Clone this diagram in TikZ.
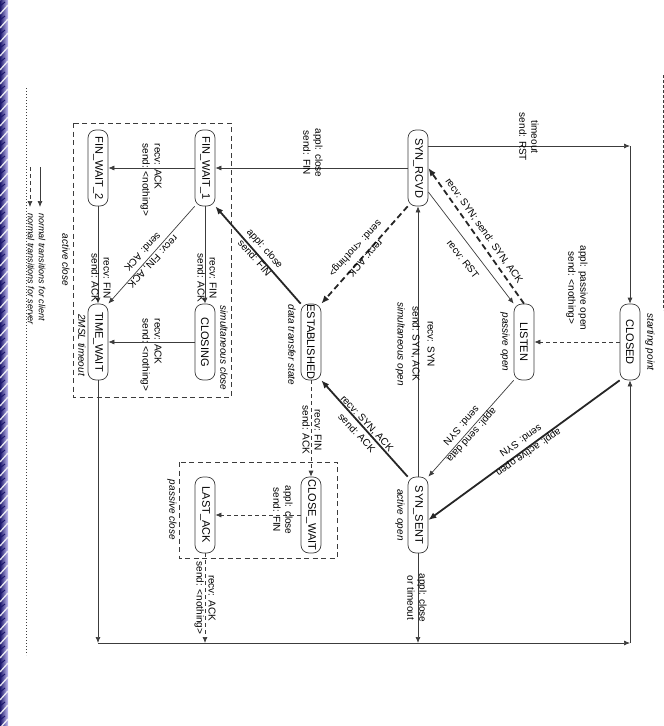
\documentclass[tikz,border=0pt]{standalone}
\usepackage{fontspec}
\setmainfont{Liberation Sans}
\usetikzlibrary{arrows.meta}
\definecolor{stripdark}{RGB}{30,25,110}
\definecolor{stripmid}{RGB}{110,100,210}
\definecolor{striplight}{RGB}{200,195,245}
\definecolor{ln}{RGB}{60,60,60}
\tikzset{
  x=1pt, y=-1pt,
  st/.style={draw=ln, line width=0.7pt, rounded corners=8pt, rotate=-90,
    minimum width=76pt, minimum height=20pt, inner sep=0pt,
    font=\fontsize{11}{12}\selectfont, fill=white},
  lblr/.style={align=center, font=\fontsize{10}{12}\selectfont, inner sep=0pt},
  lbld/.style={align=center, font=\fontsize{10}{14}\selectfont, inner sep=0pt},
  lbl/.style={lblr, rotate=-90},
  ann/.style={rotate=-90, font=\itshape\fontsize{10}{12}\selectfont, inner sep=0pt},
  tr/.style={draw=ln, line width=0.7pt, -{Latex[length=6pt,width=5pt]}},
  trthick/.style={draw=black!85, line width=1.8pt, -{Latex[length=8pt,width=6.5pt]}},
  dsh/.style={dash pattern=on 4pt off 3pt},
  dshthick/.style={dash pattern=on 6pt off 3.5pt},
  region/.style={draw=ln, line width=0.8pt, dash pattern=on 5pt off 3.5pt},
}
\begin{document}
\begin{tikzpicture}
\useasboundingbox (0,0) rectangle (664,726);
% left decorative strip
\shade[left color=stripdark, right color=striplight] (0,0) rectangle (8,726);
\foreach \k in {0,...,52} {
  \draw[white, line width=1.3pt, opacity=0.85] (0,\k*14) -- (8,\k*14-9);
  \draw[stripdark, line width=1pt] (0,\k*14+6) -- (5,\k*14+2);
}
% right dashed border fragment and legend dotted line
\draw[ln, line width=0.5pt, dash pattern=on 3pt off 2pt] (663,75) -- (663,310);
\draw[ln, line width=0.8pt, dash pattern=on 1pt off 2pt] (26,88) -- (26,655);

% dashed regions
\draw[region] (73,123) rectangle (231,397);
\draw[region] (179,462) rectangle (337,558);

% states
\node[st] (closed) at (630,342) {CLOSED};
\node[st] (listen) at (524,342) {LISTEN};
\node[st] (synrcvd) at (418,168) {SYN\_RCVD};
\node[st] (synsent) at (418,515) {SYN\_SENT};
\node[st] (estab) at (311,342) {ESTABLISHED};
\node[st] (finwait1) at (205,168) {FIN\_WAIT\_1};
\node[st] (finwait2) at (98,168) {FIN\_WAIT\_2};
\node[st] (closing) at (205,342) {CLOSING};
\node[st] (timewait) at (98,342) {TIME\_WAIT};
\node[st] (closewait) at (311,515) {CLOSE\_WAIT};
\node[st] (lastack) at (205,515) {LAST\_ACK};

% helper coordinates
\coordinate (c1) at (630,146);
\coordinate (c2) at (630,643);
\coordinate (b0) at (98,643);
\coordinate (b1) at (205,643);
\coordinate (b2) at (418,643);

% transitions
\draw[tr] ([yshift=22pt]synrcvd.north) -- (c1);
\draw[tr] (c1) -- (closed.west);
\draw[tr, dsh] (closed.south) -- (listen.north);
\draw[trthick, dshthick] (listen.west) -- (synrcvd.north);
\draw[tr] ([yshift=-24pt]synrcvd.north) -- (listen.south west);
\draw[tr] (listen.south east) -- (synsent.north west);
\draw[trthick] (closed.south east) -- ([yshift=-5pt]synsent.north);
\draw[tr] (synsent.west) -- (synrcvd.east);
\draw[trthick, dshthick] (synrcvd.south east) -- (estab.north west);
\draw[trthick] (synsent.south west) -- (estab.north east);
\draw[tr] (synrcvd.south) -- (finwait1.north);
\draw[trthick] (estab.south west) -- (finwait1.north east);
\draw[tr, dsh] (estab.east) -- (closewait.west);
\draw[tr, dsh] (closewait.south) -- (lastack.north);
\draw[tr] (finwait1.south) -- (finwait2.north);
\draw[tr] (finwait1.east) -- (closing.west);
\draw[tr] (finwait2.east) -- (timewait.west);
\draw[tr] (finwait1.south east) -- (timewait.north west);
\draw[tr] (closing.south) -- (timewait.north);
\draw[tr] (timewait.east) -- (b0);
\draw[tr, dsh] (lastack.east) -- (b1);
\draw[tr] (synsent.east) -- (b2);
\draw[tr] (b0) -- (c2);
\draw[tr] (c2) -- (closed.east);

% labels
\node[lbl] (l1) at (529,137) {timeout\\send: RST};
\node[lbl] (l2) at (577,288) {appl: passive open\\send: <nothing>};
\node[lblr, rotate=-54.7] (l3) at (484,231) {recv: SYN; send: SYN, ACK};
\node[lblr, rotate=-52.3] (l4) at (463,259) {recv: RST};
\node[lbl, font=\fontsize{10}{15}\selectfont] (l5) at (415,344) {recv: SYN\\send: SYN, ACK\\\textit{simultaneous open}};
\node[lbld, rotate=-133] (l6) at (360,253) {recv: ACK\\send: <nothing>};
\node[lbld, rotate=-48.6] (l7) at (260,253) {appl: close\\send: FIN};
\node[lbld, rotate=-47] (l8) at (362,428) {recv: SYN, ACK\\send: ACK};
\node[lbl] (l9) at (312,430) {recv: FIN\\send: ACK};
\node[lbl] (l10) at (283,510) {appl: close\\send: FIN};
\node[lbl] (l11) at (205,598) {recv: ACK\\send: <nothing>};
\node[lbl] (l12) at (417,598) {appl: close\\or timeout};
\node[lbl] (l13) at (313,153) {appl: close\\send: FIN};
\node[lbld, rotate=-131.9] (l14) at (467,431) {appl: send data\\send: SYN};
\node[lbld, rotate=-145.5] (l15) at (525,447) {appl: active open\\send: SYN};
\node[lbl, align=left] (l16) at (151,180) {recv: ACK\\send: <nothing>};
\node[lbl] (l17) at (207,278) {recv: FIN\\send: ACK};
\node[lbl] (l18) at (101,278) {recv: FIN\\send: ACK};
\node[lbld, rotate=-133.4] (l19) at (148,257) {recv: FIN, ACK\\send: ACK};
\node[lbl, align=left] (l20) at (151,355) {recv: ACK\\send: <nothing>};

% annotations
\node[ann] (a1) at (650,342) {starting point};
\node[ann] (a2) at (505,342) {passive open};
\node[ann] (a3) at (172,510) {passive close};
\node[ann] (a4) at (66,260) {active close};
\node[ann] (a5) at (224,348) {simultaneous close};
\node[ann] (a6) at (82,345) {2MSL timeout};
\node[ann] (a7) at (292,345) {data transfer state};
\node[ann] (a8) at (400,515) {active open};

% legend
\coordinate (lg1) at (40,167);
\coordinate (lg2) at (40,207);
\coordinate (lg3) at (30,167);
\coordinate (lg4) at (30,207);
\draw[tr] (lg1) -- (lg2);
\draw[tr, dsh] (lg3) -- (lg4);
\node[ann, anchor=west, font=\itshape\fontsize{9}{10}\selectfont] (lgc) at (42,213) {normal transitions for client};
\node[ann, anchor=west, font=\itshape\fontsize{9}{10}\selectfont] (lgs) at (31,213) {normal transitions for server};
\end{tikzpicture}
\end{document}
